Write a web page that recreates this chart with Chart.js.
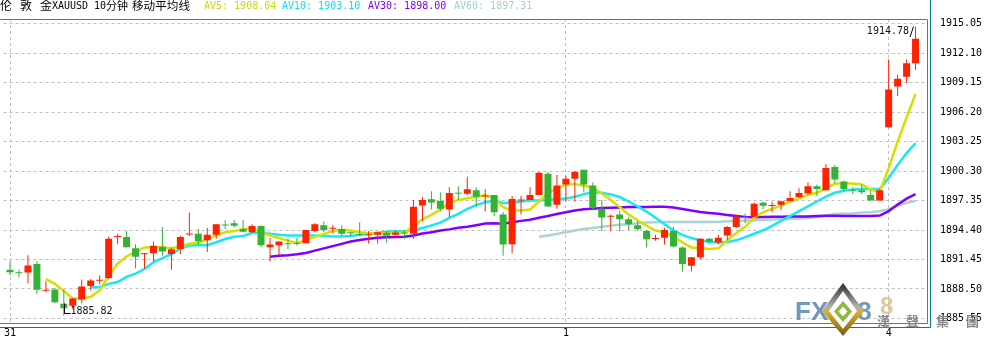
<!DOCTYPE html>
<html><head><meta charset="utf-8">
<script src="https://cdn.jsdelivr.net/npm/chart.js@4.4.1/dist/chart.umd.min.js"></script>
<style>
html,body{margin:0;padding:0;background:#fff;}
#wrap{position:relative;width:985px;height:342px;overflow:hidden;background:#fff;}
#c{position:absolute;left:0;top:0;}
#hdr span{position:absolute;white-space:pre;}
.a{font-family:"DejaVu Sans Mono",monospace;font-size:10px;line-height:12px;top:0px;}
.c{font-family:"Noto Sans CJK SC",sans-serif;font-size:12px;line-height:12px;top:-1px;color:#000;}
</style></head>
<body>
<div id="wrap">
<canvas id="c" width="985" height="342"></canvas>
<div id="hdr">
<span class="c" style="left:0px">伦</span>
<span class="c" style="left:20px">敦</span>
<span class="c" style="left:40px">金</span>
<span class="a" style="left:52px;color:#000">XAUUSD</span>
<span class="a" style="left:94px;color:#000">10</span>
<span class="c" style="left:106px;font-size:11px">分钟</span>
<span class="c" style="left:132px;font-size:11.6px">移动平均线</span>
<span class="a" id="av5" style="left:204px;color:#D2D900"></span>
<span class="a" id="av10" style="left:282px;color:#10E0EC"></span>
<span class="a" id="av30" style="left:368px;color:#8000FF"></span>
<span class="a" id="av60" style="left:454px;color:#A6D0D0"></span>
</div>
</div>
<script>
// ---- data ----
const dayLabels = ['31', '1', '4'];
const dayStartIndex = [0, 62, 98];
const yTicks = [1885.55, 1888.50, 1891.45, 1894.40, 1897.35, 1900.30, 1903.25, 1906.20, 1909.15, 1912.10, 1915.05];

const open = [1890.43,1890.15,1890.14,1891.01,1888.33,1888.46,1887.03,1886.81,1887.45,1888.81,
1889.33,1889.59,1893.70,1893.70,1892.57,1891.98,1892.08,1892.73,1892.01,1892.50,
1893.95,1894.02,1893.37,1893.92,1894.92,1895.09,1894.51,1894.19,1894.80,1892.69,
1892.89,1893.05,1893.04,1893.08,1894.31,1894.89,1894.54,1894.51,1894.12,1893.93,
1893.87,1893.92,1894.12,1893.92,1894.12,1894.02,1896.86,1897.49,1897.32,1896.45,
1898.10,1898.03,1898.39,1897.75,1897.90,1895.96,1892.98,1897.36,1897.42,1897.90,
1900.04,1896.93,1898.97,1899.55,1900.43,1898.87,1896.54,1895.74,1895.96,1895.48,
1894.89,1894.31,1893.51,1893.63,1894.31,1892.66,1890.82,1891.69,1893.54,1893.15,
1893.86,1894.70,1895.67,1895.74,1897.13,1896.81,1896.93,1897.32,1897.71,1898.07,
1898.78,1898.39,1900.72,1899.26,1898.39,1898.39,1897.90,1897.35,1904.70,1908.77,
1909.74,1911.10];
const high = [1891.28,1890.45,1891.89,1891.28,1889.24,1888.59,1888.42,1887.60,1889.46,1889.49,
1889.88,1893.73,1894.02,1894.31,1892.98,1892.10,1893.25,1894.70,1892.66,1893.83,
1896.16,1894.51,1894.60,1894.99,1895.38,1895.38,1895.41,1894.99,1894.89,1893.60,
1893.25,1893.54,1893.60,1894.41,1895.09,1895.28,1894.89,1894.89,1894.22,1895.19,
1894.31,1894.19,1894.31,1894.35,1894.41,1897.42,1897.71,1898.29,1898.19,1898.68,
1898.78,1899.75,1898.68,1898.49,1897.90,1896.19,1897.81,1897.81,1898.68,1900.23,
1900.23,1899.94,1899.84,1900.23,1900.43,1899.16,1897.42,1895.96,1896.35,1895.70,
1895.28,1894.41,1893.92,1894.60,1894.70,1892.76,1891.69,1893.60,1893.63,1893.92,
1894.80,1895.96,1896.06,1897.16,1897.25,1897.22,1897.29,1898.29,1898.58,1899.16,
1898.97,1901.01,1900.91,1899.36,1898.68,1898.97,1898.39,1898.49,1911.49,1909.94,
1911.49,1914.78];
const low = [1889.88,1889.65,1889.07,1888.03,1888.20,1887.06,1885.82,1886.50,1887.06,1888.36,
1888.95,1889.49,1892.98,1892.65,1890.56,1890.56,1891.28,1891.86,1890.43,1892.01,
1893.80,1892.89,1892.21,1893.54,1894.51,1894.67,1894.19,1894.10,1892.69,1891.24,
1891.86,1892.50,1892.86,1893.08,1894.19,1894.19,1894.09,1893.80,1893.80,1893.80,
1893.05,1893.05,1893.15,1893.86,1893.54,1893.54,1895.31,1896.45,1896.28,1895.70,
1897.42,1897.90,1896.77,1896.25,1895.80,1891.82,1892.08,1895.96,1897.42,1897.90,
1896.77,1896.54,1897.25,1897.25,1898.19,1896.35,1894.31,1894.31,1894.28,1894.41,
1894.31,1892.66,1893.34,1892.95,1892.66,1890.24,1890.24,1891.50,1893.05,1892.95,
1893.37,1894.60,1895.09,1895.74,1896.52,1896.19,1896.38,1897.32,1897.61,1897.97,
1897.81,1898.39,1899.07,1898.29,1898.00,1898.00,1897.35,1897.35,1904.70,1907.83,
1909.16,1910.42];
const close = [1890.17,1890.08,1890.85,1888.42,1888.38,1887.16,1886.58,1887.55,1888.75,1889.36,
1889.40,1893.54,1893.80,1892.69,1891.72,1892.05,1892.83,1892.25,1892.47,1893.70,
1894.02,1893.27,1893.92,1894.99,1894.86,1894.83,1894.24,1894.80,1892.89,1892.95,
1893.25,1892.99,1893.00,1894.41,1894.99,1894.41,1894.60,1894.02,1894.07,1893.88,
1893.93,1894.19,1893.83,1894.15,1894.06,1896.74,1897.42,1897.16,1896.54,1898.10,
1898.04,1898.49,1897.74,1897.81,1896.19,1892.95,1897.51,1897.42,1897.90,1900.14,
1896.77,1898.87,1899.55,1900.23,1898.97,1896.64,1895.67,1895.80,1895.48,1894.99,
1894.51,1893.47,1893.57,1894.41,1892.76,1891.01,1891.69,1893.54,1893.25,1893.63,
1894.70,1895.77,1895.61,1897.03,1896.84,1896.87,1897.29,1897.61,1898.10,1898.78,
1898.51,1900.62,1899.46,1898.51,1898.33,1898.19,1897.35,1898.39,1908.48,1909.55,
1911.10,1913.56];

// moving averages (first value sits on candle N of an N-period MA)
const ma5 = [1889.49,1889.01,1888.30,1887.55,1887.55,1887.71,1888.36,1889.80,1891.05,1891.76,
1892.24,1892.66,1892.69,1892.69,1892.57,1892.76,1893.02,1893.12,1893.50,1893.89,
1894.18,1894.31,1894.47,1894.60,1894.18,1893.86,1893.60,1893.34,1893.12,1893.37,
1893.73,1893.99,1894.31,1894.44,1894.35,1894.18,1894.09,1894.09,1894.09,1894.09,
1894.15,1894.77,1895.48,1895.93,1896.45,1897.09,1897.42,1897.58,1897.74,1897.90,
1897.58,1896.70,1896.35,1896.35,1896.45,1897.26,1898.13,1898.55,1898.94,1899.00,
1898.84,1898.65,1898.07,1897.42,1896.71,1895.96,1895.38,1894.83,1894.35,1894.18,
1893.80,1893.15,1892.66,1892.57,1892.50,1892.57,1893.37,1894.09,1894.74,1895.64,
1896.19,1896.52,1896.84,1897.26,1897.58,1897.91,1898.13,1898.55,1899.04,1899.10,
1899.07,1898.97,1898.46,1898.20,1900.60,1903.24,1905.67,1908.04];
const ma10 = [1888.68,1888.68,1889.01,1889.20,1889.72,1890.04,1890.50,1891.18,1891.60,1891.98,
1892.57,1892.86,1892.89,1892.89,1893.18,1893.50,1893.73,1893.80,1894.10,1894.12,
1894.02,1893.92,1893.86,1893.86,1893.86,1893.86,1893.83,1893.76,1893.76,1893.80,
1893.92,1894.02,1894.12,1894.22,1894.28,1894.28,1894.41,1894.60,1894.86,1895.15,
1895.61,1896.03,1896.51,1896.90,1897.19,1897.35,1897.12,1897.16,1897.26,1897.35,
1897.35,1897.42,1897.48,1897.55,1897.74,1898.00,1898.19,1898.13,1897.97,1897.71,
1897.26,1896.77,1896.25,1895.64,1894.99,1894.35,1893.92,1893.60,1893.37,1893.21,
1893.15,1893.21,1893.37,1893.70,1894.03,1894.38,1894.83,1895.32,1895.80,1896.29,
1896.77,1897.26,1897.75,1898.13,1898.33,1898.46,1898.52,1898.52,1898.52,1899.62,
1900.91,1902.11,1903.10];
const ma30 = [1891.72,1891.82,1891.89,1891.98,1892.11,1892.34,1892.57,1892.79,1893.02,1893.25,
1893.41,1893.54,1893.63,1893.67,1893.70,1893.73,1893.86,1894.05,1894.18,1894.35,
1894.47,1894.64,1894.73,1894.89,1895.06,1895.09,1895.04,1895.19,1895.32,1895.44,
1895.64,1895.80,1896.00,1896.19,1896.35,1896.48,1896.54,1896.61,1896.64,1896.67,
1896.71,1896.71,1896.71,1896.74,1896.74,1896.67,1896.51,1896.35,1896.22,1896.12,
1896.03,1895.90,1895.80,1895.70,1895.68,1895.71,1895.74,1895.74,1895.77,1895.77,
1895.77,1895.80,1895.84,1895.84,1895.80,1895.80,1895.82,1895.82,1895.85,1896.30,
1896.95,1897.55,1898.00];
const ma60 = [1893.73,1893.86,1894.02,1894.18,1894.35,1894.51,1894.60,1894.73,1894.83,1894.93,
1894.99,1895.09,1895.15,1895.19,1895.22,1895.22,1895.22,1895.22,1895.22,1895.22,
1895.22,1895.28,1895.32,1895.35,1895.38,1895.42,1895.45,1895.48,1895.51,1895.55,
1895.61,1895.70,1895.84,1896.00,1896.03,1896.05,1896.15,1896.19,1896.28,1896.50,
1896.84,1897.12,1897.31];

// ---- styles ----
const RED = '#FF2200', GREEN = '#33B233';
const C5 = '#D6E000', C10 = '#18E8F4', C30 = '#7F00FF', C60 = '#A8D4D4';
const MONO = '"DejaVu Sans Mono", monospace';

document.getElementById('av5').textContent = 'AV5: ' + ma5[ma5.length - 1].toFixed(2);
document.getElementById('av10').textContent = 'AV10: ' + ma10[ma10.length - 1].toFixed(2);
document.getElementById('av30').textContent = 'AV30: ' + ma30[ma30.length - 1].toFixed(2);
document.getElementById('av60').textContent = 'AV60: ' + ma60[ma60.length - 1].toFixed(2);

const colors = close.map((c, i) => c >= open[i] ? RED : GREEN);
const maPoints = (arr, n) => arr.map((v, k) => ({x: k + n - 1, y: v}));

const hiIdx = high.indexOf(Math.max(...high));
const loIdx = low.indexOf(Math.min(...low));

const decorPlugin = {
  id: 'decor',
  afterDraw(chart) {
    const ctx = chart.ctx, a = chart.chartArea, xs = chart.scales.x, ys = chart.scales.y;
    ctx.save();
    // frames
    ctx.lineWidth = 1;
    ctx.strokeStyle = '#808000';
    ctx.beginPath();
    ctx.moveTo(0, a.top + 0.5); ctx.lineTo(a.right + 0.5, a.top + 0.5);
    ctx.lineTo(a.right + 0.5, a.bottom + 0.5); ctx.lineTo(0, a.bottom + 0.5);
    ctx.stroke();
    ctx.strokeStyle = '#008080';
    ctx.beginPath();
    ctx.moveTo(a.right + 3.5, 0); ctx.lineTo(a.right + 3.5, a.bottom + 4.5); ctx.lineTo(0, a.bottom + 4.5);
    ctx.stroke();

    // high / low annotations
    ctx.fillStyle = '#111'; ctx.strokeStyle = '#000';
    ctx.font = '10px ' + MONO;
    let px = Math.round(xs.getPixelForValue(hiIdx)), py = ys.getPixelForValue(high[hiIdx]);
    ctx.beginPath(); ctx.moveTo(px - 6, py + 10.5); ctx.lineTo(px - 2.5, py); ctx.stroke();
    ctx.textAlign = 'right'; ctx.textBaseline = 'alphabetic';
    ctx.fillText(high[hiIdx].toFixed(2), px - 7, py + 7.5);

    px = Math.round(xs.getPixelForValue(loIdx)) + 0.5; py = Math.round(ys.getPixelForValue(low[loIdx])) - 2.5;
    ctx.beginPath(); ctx.moveTo(px, py - 10); ctx.lineTo(px, py); ctx.lineTo(px + 6, py); ctx.stroke();
    ctx.textAlign = 'left';
    ctx.fillText(low[loIdx].toFixed(2), px + 6, py);

    // watermark
    ctx.font = 'bold 26px "Liberation Sans", sans-serif';
    ctx.fillStyle = 'rgba(98,142,178,0.9)';
    ctx.textAlign = 'left';
    ctx.fillText('FX168', 795, 320);
    ctx.font = 'bold 24px "Liberation Sans", sans-serif';
    ctx.fillStyle = 'rgba(214,192,140,0.85)';
    ctx.fillText('8', 880, 314);
    const dia = (cx, cy, hw, ht, hb, fill) => {
      ctx.beginPath(); ctx.moveTo(cx, cy - ht); ctx.lineTo(cx + hw, cy); ctx.lineTo(cx, cy + hb); ctx.lineTo(cx - hw, cy); ctx.closePath();
      ctx.fillStyle = fill; ctx.fill();
    };
    const g = ctx.createLinearGradient(0, 283, 0, 336);
    g.addColorStop(0, '#2a2a2a'); g.addColorStop(0.45, '#b0b0b0'); g.addColorStop(0.55, '#d8b030'); g.addColorStop(1, '#7a5a10');
    dia(843, 311, 21, 28, 25, g);
    dia(843, 311, 14, 20, 18, '#ffffff');
    dia(843, 311.5, 9, 10.5, 10.5, '#8DB83A');
    dia(843, 311.5, 4.5, 5, 5, '#ffffff');
    ctx.font = 'bold 13px "Noto Sans CJK TC", sans-serif';
    ctx.fillStyle = 'rgba(128,128,128,0.95)';
    ctx.fillText('漢', 877, 326);
    ctx.fillText('聲', 906, 326);
    ctx.fillText('集', 936, 326);
    ctx.fillText('團', 966, 326);
    ctx.restore();
  }
};

new Chart(document.getElementById('c').getContext('2d'), {
  type: 'bar',
  data: {
    datasets: [
      {type: 'bar', label: 'body', data: open.map((o, i) => ({x: i, y: [o, close[i]]})),
        backgroundColor: colors, borderWidth: 0, barThickness: 7, minBarLength: 1, grouped: false, inflateAmount: 0, order: 0},
      {type: 'bar', label: 'wick', data: low.map((l, i) => ({x: i, y: [l, high[i]]})),
        backgroundColor: colors, borderWidth: 0, barThickness: 1, grouped: false, inflateAmount: 0, order: 1},
      {type: 'line', label: 'AV5', data: maPoints(ma5, 5), borderColor: C5, borderWidth: 2.5, pointRadius: 0, tension: 0, order: 2},
      {type: 'line', label: 'AV10', data: maPoints(ma10, 10), borderColor: C10, borderWidth: 2.5, pointRadius: 0, tension: 0, order: 3},
      {type: 'line', label: 'AV30', data: maPoints(ma30, 30), borderColor: C30, borderWidth: 2.5, pointRadius: 0, tension: 0, order: 4},
      {type: 'line', label: 'AV60', data: maPoints(ma60, 60), borderColor: C60, borderWidth: 2.5, pointRadius: 0, tension: 0, order: 5}
    ]
  },
  options: {
    responsive: false,
    animation: false,
    events: [],
    layout: {padding: {top: 13, left: 0, right: 0, bottom: 0}},
    plugins: {legend: {display: false}, tooltip: {enabled: false}},
    scales: {
      x: {
        type: 'linear', min: -0.7222, max: 102.2778, offset: false,
        grid: {color: '#BEBEBE', lineWidth: 1, drawTicks: false, offset: false},
        border: {display: false, dash: [3, 3]},
        afterBuildTicks: (s) => { s.ticks = dayStartIndex.map(v => ({value: v})); },
        afterFit: (s) => { s.height = 15; },
        ticks: {autoSkip: false, maxRotation: 0, padding: 4, color: '#000', font: {family: MONO, size: 10},
          callback: (v) => { const k = dayStartIndex.indexOf(v); return k >= 0 ? dayLabels[k] : ''; }}
      },
      y: {
        type: 'linear', position: 'right', min: 1885.094, max: 1915.535,
        grid: {color: '#BEBEBE', lineWidth: 1, drawTicks: false},
        border: {display: false, dash: [3, 3]},
        afterBuildTicks: (s) => { s.ticks = yTicks.map(v => ({value: v})); },
        afterFit: (s) => { s.width = 58; },
        ticks: {padding: 13, color: '#000', font: {family: MONO, size: 10}, callback: (v) => Number(v).toFixed(2)}
      }
    }
  },
  plugins: [decorPlugin]
});
</script>
</body></html>
